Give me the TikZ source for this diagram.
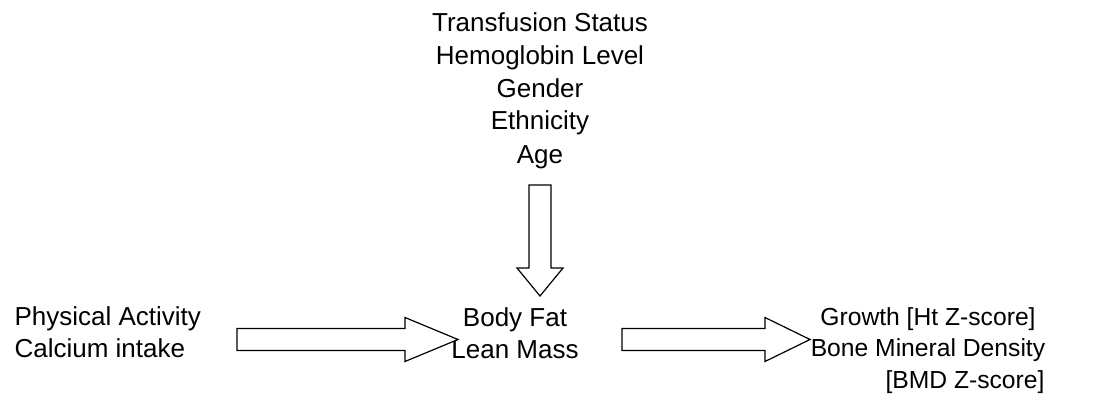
\documentclass[tikz,border=0pt]{standalone}
\usepackage{fontspec}
\setmainfont{Liberation Sans}
\usetikzlibrary{calc}

\begin{document}
\begin{tikzpicture}[x=0.75pt, y=-0.75pt, line width=0.9pt,
  txt/.style={inner sep=0pt, font=\fontsize{19.5}{23.5}\selectfont},
  fat/.style={draw=black, fill=white, line join=miter}]
\useasboundingbox (0,0) rectangle (1093,403);
% factors (base = last line)
\node[txt, align=center, anchor=base, font=\fontsize{19.5}{24.75}\selectfont] (covar) at (540,163) {Transfusion Status\\Hemoglobin Level\\Gender\\Ethnicity\\Age};
\node[txt, align=left, anchor=base west] (lifestyle) at (14,357) {Physical Activity\\Calcium intake};
\node[txt, align=center, anchor=base] (body) at (515,358) {Body Fat\\Lean Mass};
\node[txt, align=center, anchor=base, font=\fontsize{18.5}{23.5}\selectfont] (bone) at (928,388) {Growth [Ht Z-score]\\Bone Mineral Density\\\hspace*{3em}[BMD Z-score]};
% arrow ends
\coordinate (a1s) at (237,339.5);
\coordinate (a1t) at (458,339.5);
\coordinate (a2s) at (622,339.5);
\coordinate (a2t) at (810,339.5);
\coordinate (a3s) at (540,185);
\coordinate (a3t) at (540,296);
% block arrows
\draw[fat] ($(a1s)+(0,-11)$) -- ($(a1t)+(-53,-11)$) -- ($(a1t)+(-53,-22)$) -- (a1t)
  -- ($(a1t)+(-53,22)$) -- ($(a1t)+(-53,11)$) -- ($(a1s)+(0,11)$) -- cycle;
\draw[fat] ($(a2s)+(0,-11)$) -- ($(a2t)+(-45,-11)$) -- ($(a2t)+(-45,-22)$) -- (a2t)
  -- ($(a2t)+(-45,22)$) -- ($(a2t)+(-45,11)$) -- ($(a2s)+(0,11)$) -- cycle;
\draw[fat] ($(a3s)+(-11,0)$) -- ($(a3t)+(-11,-28)$) -- ($(a3t)+(-23,-28)$) -- (a3t)
  -- ($(a3t)+(23,-28)$) -- ($(a3t)+(11,-28)$) -- ($(a3s)+(11,0)$) -- cycle;
\end{tikzpicture}
\end{document}
